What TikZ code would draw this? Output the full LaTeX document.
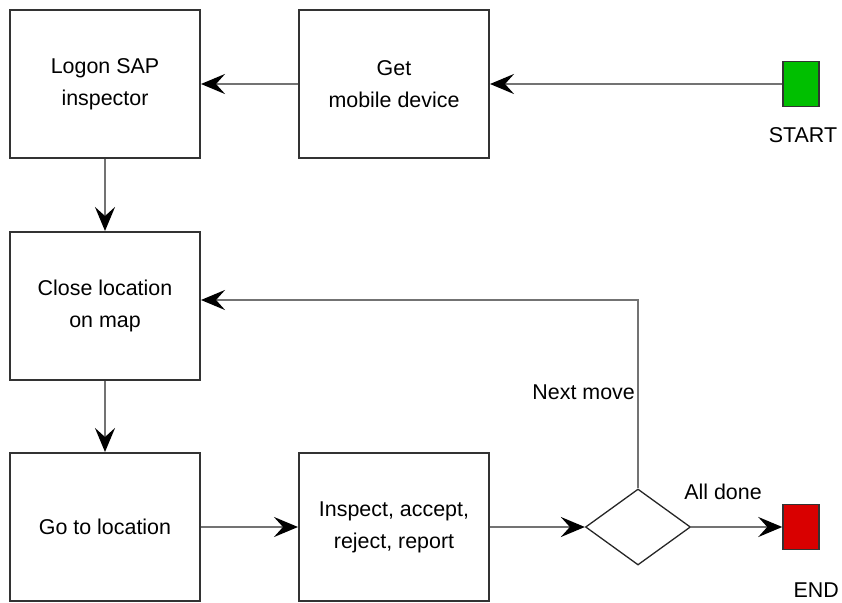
\documentclass[tikz,border=0pt]{standalone}
\usepackage{fontspec}
\setmainfont{Liberation Sans}
\usetikzlibrary{arrows.meta,shapes.geometric}
\begin{document}
\begin{tikzpicture}[x=1bp,y=-1bp,
  box/.style={draw=black!80,line width=2bp,fill=white,minimum width=190bp,minimum height=148bp,align=center,font=\fontsize{21.5}{32}\selectfont,inner sep=0pt},
  conn/.style={draw=black!55,line width=2.6bp,-{Stealth[length=24bp,width=20bp,inset=9bp,color=black]}},
  lbl/.style={font=\fontsize{21.5}{26}\selectfont,inner sep=0pt},
  term/.style={draw=black!80,line width=1.5bp,minimum width=36bp,minimum height=45bp,inner sep=0pt}]
\useasboundingbox (0,0) rectangle (842,603);
\node[box] (logon) at (105,84) {Logon SAP\\inspector};
\node[box] (get) at (394,84) {Get\\mobile device};
\node[box] (close) at (105,306) {Close location\\on map};
\node[box] (go) at (105,527) {Go to location};
\node[box] (insp) at (394,527) {Inspect, accept,\\reject, report};
\node[draw=black!85,line width=1.3bp,diamond,minimum width=105bp,minimum height=76bp,inner sep=0pt,aspect=1.4] (dec) at (638,527) {};
\node[term,fill=green!75!black] (start) at (801,84) {};
\node[term,fill=red!85!black] (end) at (801,527) {};
\node[lbl] (startl) at (803,135) {START};
\node[lbl,anchor=east] (endl) at (839,590) {END};
\coordinate (corner) at (638,300);
\draw[conn] (start) -- (get);
\draw[conn] (get) -- (logon);
\draw[conn] (logon) -- (close);
\draw[conn] (close) -- (go);
\draw[conn] (go) -- (insp);
\draw[conn] (insp) -- (dec.west);
\draw[conn] (dec.east) -- (end);
\node[lbl] (alld) at (723,492) {All done};
\draw[conn] (dec.north) -- (corner) -- (close.east |- corner);
\node[lbl,anchor=east] (nm) at (635,392) {Next move};
\end{tikzpicture}
\end{document}
